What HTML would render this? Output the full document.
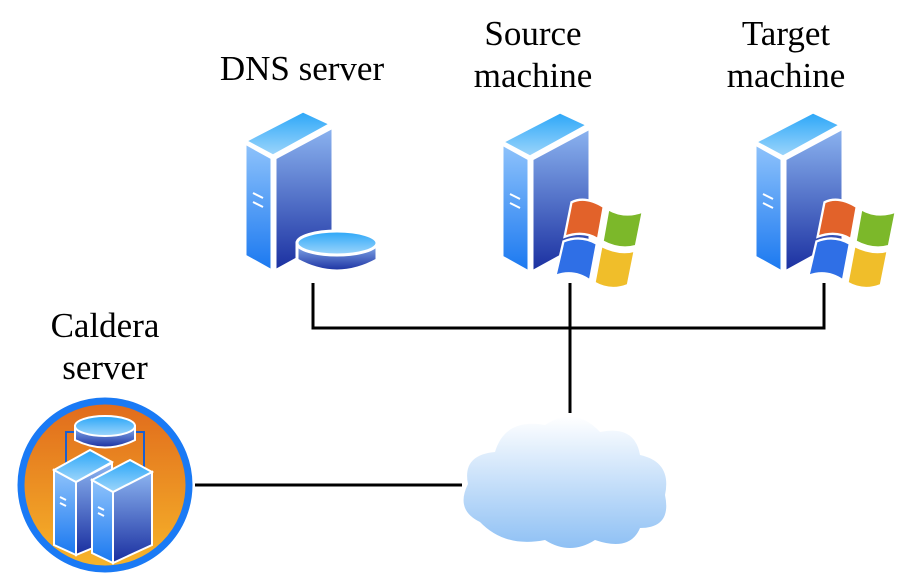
<!DOCTYPE html>
<html><head><meta charset="utf-8"><style>
html,body{margin:0;padding:0;background:#fff;}
svg{display:block}
text{font-family:"Liberation Serif",serif;font-size:35px;fill:#000;text-anchor:middle}
</style></head><body>
<svg width="897" height="576" viewBox="0 0 897 576" xmlns="http://www.w3.org/2000/svg">
<defs>
<linearGradient id="front" x1="0" y1="0" x2="0" y2="1"><stop offset="0" stop-color="#8fc3fb"/><stop offset="1" stop-color="#1a78f0"/></linearGradient>
<linearGradient id="side" x1="0" y1="0" x2="0" y2="1"><stop offset="0" stop-color="#8cb4f0"/><stop offset="1" stop-color="#1a2fa0"/></linearGradient>
<linearGradient id="top" x1="0" y1="0" x2="0" y2="1"><stop offset="0" stop-color="#2aa6f8"/><stop offset="1" stop-color="#9fd6fb"/></linearGradient>
<linearGradient id="orange" x1="0" y1="0" x2="0" y2="1"><stop offset="0" stop-color="#e06a1c"/><stop offset="1" stop-color="#f7b52a"/></linearGradient>
<linearGradient id="cloud" x1="0" y1="0" x2="0" y2="1"><stop offset="0" stop-color="#ffffff"/><stop offset="1" stop-color="#8ec0f4"/></linearGradient>
<g id="tower">
<polygon points="0,32 27,47 27,160 0,145" fill="url(#front)" stroke="#fff" stroke-width="3"/>
<polygon points="30,47 88,16 88,128 30,160" fill="url(#side)" stroke="#fff" stroke-width="3"/>
<polygon points="0,30 58,0 86,13 28,45" fill="url(#top)" stroke="#fff" stroke-width="3"/>
<line x1="8" y1="82" x2="18" y2="87" stroke="#fff" stroke-width="2"/>
<line x1="8" y1="91" x2="18" y2="96" stroke="#fff" stroke-width="2"/>
</g>
<g id="win">
<path d="M10,2 Q22,-4 38,6 L33,34 Q20,26 4,32 Z" fill="#e2622a" stroke="#fff" stroke-width="2"/>
<path d="M42,8 Q56,16 72,10 L66,40 Q52,44 37,36 Z" fill="#7cb82a" stroke="#fff" stroke-width="2"/>
<path d="M3,36 Q18,30 32,38 L26,70 Q12,60 -4,66 Z" fill="#2f6fe6" stroke="#fff" stroke-width="2"/>
<path d="M36,40 Q52,48 65,44 L59,74 Q44,80 30,72 Z" fill="#f0be2a" stroke="#fff" stroke-width="2"/>
</g>
</defs>
<g stroke="#000" stroke-width="3" fill="none">
<polyline points="313,283 313,328 824,328 824,283"/>
<line x1="570" y1="283" x2="570" y2="413"/>
<line x1="195" y1="485" x2="462" y2="485"/>
</g>
<text x="302" y="80">DNS server</text>
<text x="533" y="45">Source</text><text x="533" y="87">machine</text>
<text x="786" y="45">Target</text><text x="786" y="87">machine</text>
<text x="105" y="337">Caldera</text><text x="105" y="379">server</text>
<use href="#tower" x="245" y="111"/>
<path d="M297,243 L297,260 Q337,282 377,260 L377,243 Z" fill="url(#side)" stroke="#fff" stroke-width="3"/>
<ellipse cx="337" cy="243" rx="40" ry="12" fill="url(#top)" stroke="#fff" stroke-width="3"/>
<use href="#tower" x="502" y="112"/>
<g transform="translate(560,200) scale(1.15)"><use href="#win"/></g>
<use href="#tower" x="755" y="112"/>
<g transform="translate(813,200) scale(1.15)"><use href="#win"/></g>
<path d="M480,522 Q455,510 468,484 Q462,455 495,452 Q505,418 545,425 Q575,405 600,432 Q635,425 640,455 Q672,462 665,495 Q672,528 640,528 Q630,552 595,540 Q570,556 545,540 Q505,548 480,522 Z" fill="url(#cloud)"/>
<circle cx="105" cy="485" r="84" fill="url(#orange)" stroke="#1a7af5" stroke-width="7"/>
<rect x="66" y="432" width="78" height="58" fill="none" stroke="#1a5fd0" stroke-width="2"/>
<path d="M75,426 L75,440 Q105,455 135,440 L135,426 Z" fill="url(#side)" stroke="#fff" stroke-width="2"/>
<ellipse cx="105" cy="426" rx="30" ry="10" fill="url(#top)" stroke="#fff" stroke-width="2"/>
<g stroke="#fff" stroke-width="2">
<polygon points="54,470 76,482 76,555 54,545" fill="url(#front)"/>
<polygon points="76,482 112,463 112,540 76,555" fill="url(#side)"/>
<polygon points="54,470 90,450 112,462 76,482" fill="url(#top)"/>
<polygon points="92,480 113,492 113,563 92,553" fill="url(#front)"/>
<polygon points="113,492 152,472 152,545 113,563" fill="url(#side)"/>
<polygon points="92,480 130,460 152,472 113,492" fill="url(#top)"/>
<line x1="60" y1="497" x2="66" y2="500"/><line x1="60" y1="503" x2="66" y2="506"/>
<line x1="98" y1="507" x2="104" y2="510"/><line x1="98" y1="513" x2="104" y2="516"/>
</g>
</svg>
</body></html>
